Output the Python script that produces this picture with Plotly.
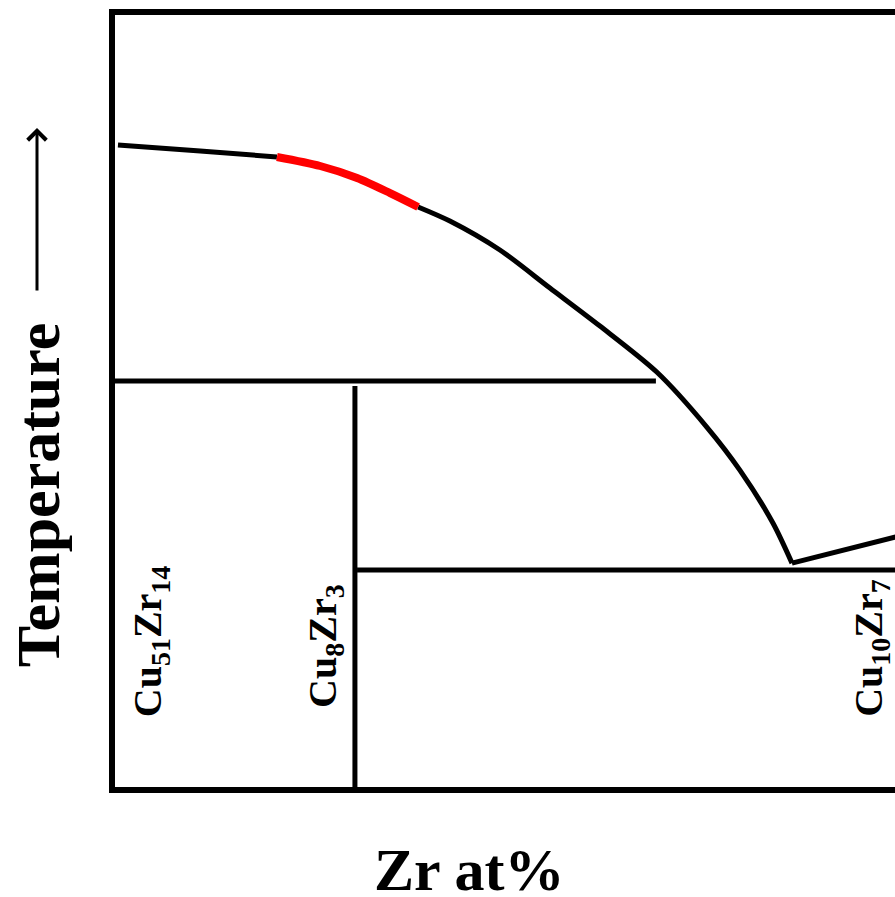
import plotly.graph_objects as go

# Liquidus (Cu-rich side), Zr at% vs temperature (schematic, degC)
liq_x_a = [21.68, 23.62, 25.43]
liq_t_a = [1087.4, 1084.5, 1081.7]
liq_x_red = [25.43, 26.45, 27.32, 28.10, 28.76]
liq_t_red = [1081.7, 1077.4, 1071.7, 1064.5, 1057.9]
liq_x_b = [28.76, 29.51, 30.69, 31.87, 33.05, 34.39, 35.57, 36.35, 37.13, 37.58]
liq_t_b = [1057.9, 1051.2, 1037.4, 1019.3, 1001.2, 979.3, 953.1, 932.6, 907.4, 888.3]
liq_x_c = [37.58, 41.18]
liq_t_c = [888.3, 906.7]

peritectic_x = [21.54, 34.37]
peritectic_t = [975, 975]
cu8zr3_x = [27.27, 27.27]
cu8zr3_t = [972.6, 770]
eutectic_x = [27.32, 41.18]
eutectic_t = [885, 885]

phase_labels = ["Cu<sub>51</sub>Zr<sub>14</sub>", "Cu<sub>8</sub>Zr<sub>3</sub>", "Cu<sub>10</sub>Zr<sub>7</sub>"]
label_x = [22.44, 26.56, 39.44]
label_t = [851.2, 848.8, 847.9]

FONT = "Liberation Serif, Times New Roman, serif"

fig = go.Figure()
def add_line(x, y, color="black", width=5, shape="linear"):
    fig.add_trace(go.Scatter(x=x, y=y, mode="lines",
                             line=dict(color=color, width=width, shape=shape, smoothing=0.8),
                             showlegend=False, hoverinfo="skip"))

add_line(liq_x_a, liq_t_a, shape="spline")
add_line(liq_x_b, liq_t_b, shape="spline")
add_line(liq_x_red, liq_t_red, color="#ff0000", width=8, shape="spline")
add_line(liq_x_c, liq_t_c)
add_line(peritectic_x, peritectic_t)
add_line(cu8zr3_x, cu8zr3_t)
add_line(eutectic_x, eutectic_t)

annotations = []
for txt, x, y in zip(phase_labels, label_x, label_t):
    annotations.append(dict(x=x, y=y, xref="x", yref="y", text="<b>" + txt + "</b>",
                            textangle=-90, showarrow=False, xanchor="center", yanchor="middle",
                            font=dict(family=FONT, size=40, color="black")))
annotations.append(dict(x=-0.0987, y=0.378, xref="paper", yref="paper", text="<b>Temperature</b>",
                        textangle=-90, showarrow=False, xanchor="center", yanchor="middle",
                        font=dict(family=FONT, size=62, color="black")))
annotations.append(dict(x=0.455, y=-0.107, xref="paper", yref="paper", text="<b>Zr at%</b>",
                        showarrow=False, xanchor="center", yanchor="middle",
                        font=dict(family=FONT, size=60, color="black")))
annotations.append(dict(x=-0.1, y=0.8536, xref="paper", yref="paper", text="",
                        showarrow=True, ax=0, ay=164, axref="pixel", ayref="pixel",
                        arrowhead=4, arrowsize=1.2, arrowwidth=3, arrowcolor="black"))

fig.update_layout(
    width=895, height=897,
    margin=dict(l=115, r=0, t=15, b=110),
    plot_bgcolor="white", paper_bgcolor="white",
    annotations=annotations,
    xaxis=dict(range=[21.61, 40.01], showgrid=False, zeroline=False, showticklabels=False,
               ticks="", showline=True, linecolor="black", linewidth=6, mirror=True),
    yaxis=dict(range=[781.7, 1149.3], showgrid=False, zeroline=False, showticklabels=False,
               ticks="", showline=True, linecolor="black", linewidth=6, mirror=False),
)

fig.write_html("out.html")
